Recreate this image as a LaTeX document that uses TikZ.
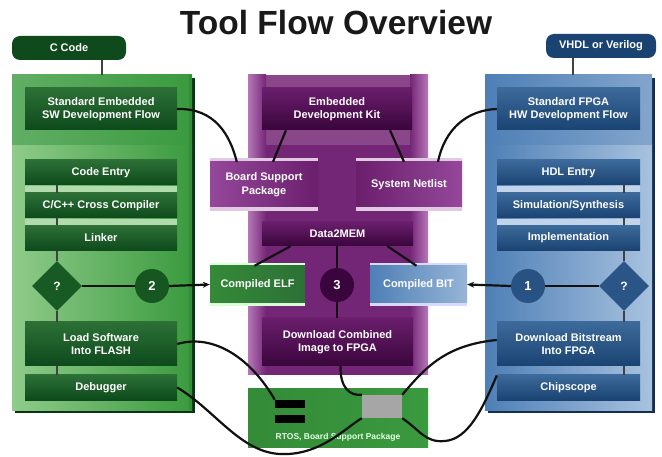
\documentclass[tikz,border=0pt]{standalone}
\usepackage{fontspec}
\setmainfont{Liberation Sans}
\usetikzlibrary{shapes.geometric,arrows.meta,calc}
\definecolor{gD}{HTML}{0E4A1C}
\definecolor{gD2}{HTML}{2C7036}
\definecolor{gP}{HTML}{3A9A3E}
\definecolor{gL}{HTML}{8FCB8A}
\definecolor{pD}{HTML}{3A053C}
\definecolor{pD2}{HTML}{6A1E6C}
\definecolor{pP}{HTML}{742676}
\definecolor{pL}{HTML}{B678B8}
\definecolor{pM}{HTML}{95489A}
\definecolor{bD}{HTML}{1A4372}
\definecolor{bD2}{HTML}{3C6A9A}
\definecolor{bP}{HTML}{4E7FB6}
\definecolor{bL}{HTML}{A8C2DF}
\definecolor{ln}{HTML}{111111}
\tikzset{
  txt/.style={text=white, font=\fontsize{11}{13.5}\selectfont\bfseries, align=center, inner sep=0pt},
  gbox/.style={txt, rectangle, top color=gD2, bottom color=gD, minimum width=152, minimum height=25},
  bbox/.style={txt, rectangle, top color=bD2, bottom color=bD, minimum width=143, minimum height=25},
  pbox/.style={txt, rectangle, top color=pD2, bottom color=pD, minimum width=151, minimum height=25},
  pill/.style={txt, rectangle, rounded corners=8, minimum height=24},
  circ/.style={txt, circle, minimum size=34, font=\fontsize{13}{13}\selectfont\bfseries},
  dia/.style={txt, diamond, aspect=1, minimum width=50, minimum height=50, font=\fontsize{12}{12}\selectfont\bfseries},
  conn/.style={draw=ln, line width=2.2},
  vconn/.style={draw=ln!80!white, line width=2},
  strip/.style={line width=3.5},
}
\begin{document}
\begin{tikzpicture}[x=1pt,y=-1pt]
\fill[white] (0,0) rectangle (662,457);
\useasboundingbox (0,0) rectangle (662,457);

% title
\node[font=\fontsize{33.5}{36}\selectfont\bfseries, text=black!90] (title) at (336,23) {Tool Flow Overview};

% ===== green panel =====
\fill[gD!70!black] (15,78) rectangle (195,413);
\shade[left color=gL, right color=gP] (12,145) rectangle (192,410);
\shade[left color=gP!80!white, right color=gP] (12,75) rectangle (192,145);
\fill[gP!90!black] (189,75) rectangle (192,410);

\node[pill, fill=gD, minimum width=114] (ccode) at (69,48) {C Code};
\node[gbox, minimum height=42] (sesw) at (101,109) {Standard Embedded\\SW Development Flow};
\fill[gL!70!white] (25,186) rectangle (177,192);
\fill[gL!70!white] (25,219) rectangle (177,225);
\node[gbox] (code) at (101,172.5) {Code Entry};
\node[gbox] (cross) at (101,205.5) {C/C++ Cross Compiler};
\node[gbox] (linker) at (101,238) {Linker};
\node[dia, fill=gD!80!gP] (gdia) at (57,286) {?};
\node[circ, fill=gD!85!gP] (c2) at (152,286) {2};
\node[gbox, minimum height=44] (loadsw) at (101,344) {Load Software\\Into FLASH};
\node[gbox] (debug) at (101,387.5) {Debugger};

% ===== purple panel =====
\fill[pP] (248,75) rectangle (428,375);
\fill[pP!85!white] (262,75) rectangle (412,145);
\shade[left color=pL, right color=pP] (248,75) rectangle (266,375);
\shade[left color=pP, right color=pL] (410,75) rectangle (428,375);
\node[pbox, minimum width=150, minimum height=42] (edk) at (337,109) {Embedded\\Development Kit};
\draw[strip, draw=pL!40!white] (210,160) -- (318,160) (210,209) -- (318,209);
\draw[strip, draw=pL!40!white] (356,160) -- (462,160) (356,209) -- (462,209);
\node[txt, rectangle, left color=pM, right color=pD2, minimum width=108, minimum height=45] (bsp) at (264,184.5) {Board Support\\Package};
\node[txt, rectangle, left color=pD2, right color=pM, minimum width=106, minimum height=45] (sysnet) at (409,184.5) {System Netlist};
\node[pbox, minimum height=24] (d2m) at (337.5,234) {Data2MEM};
\draw[strip, draw=white!85!green] (210,265) -- (305,265) (210,304) -- (305,304);
\draw[strip, draw=white!85!blue] (370,265) -- (467,265) (370,304) -- (467,304);
\node[txt, rectangle, left color=gP!90!black, right color=gD2, minimum width=95, minimum height=37] (elf) at (257.5,284.5) {Compiled ELF};
\node[txt, rectangle, left color=bP, right color=bL!80!bP, minimum width=97, minimum height=37] (bit) at (418.5,284.5) {Compiled BIT};
\node[circ, fill=pD] (c3) at (337,285) {3};
\node[pbox, minimum height=48] (dlc) at (337.5,342) {Download Combined\\Image to FPGA};

% ===== RTOS box =====
\shade[left color=gP!90!black, middle color=gP!70!white, right color=gP] (248,388) rectangle (428,447);
\node[inner sep=0, minimum width=30, minimum height=8, fill=black] (bar1) at (290,404) {};
\node[inner sep=0, minimum width=30, minimum height=8, fill=black] (bar2) at (290,419) {};
\node[inner sep=0, minimum width=40, minimum height=23, fill=gray!70!white] (gray) at (382,406.5) {};
\node[txt, text=white!90!green, font=\fontsize{8.5}{10}\selectfont\bfseries] (rtos) at (338,437) {RTOS, Board Support Package};

% ===== blue panel =====
\fill[bD!70!black] (488,78) rectangle (655,413);
\shade[left color=bP, right color=bL] (485,145) rectangle (652,410);
\shade[left color=bP, right color=bP!70!white] (485,75) rectangle (652,145);
\node[pill, fill=bD, minimum width=110] (vhdl) at (601,46) {VHDL or Verilog};
\node[bbox, minimum height=42] (sfpga) at (568.5,109) {Standard FPGA\\HW Development Flow};
\fill[bL!70!white] (497,186) rectangle (640,192);
\fill[bL!70!white] (497,219) rectangle (640,225);
\node[bbox] (hdl) at (568.5,172.5) {HDL Entry};
\node[bbox] (sim) at (568.5,205.5) {Simulation/Synthesis};
\node[bbox] (impl) at (568.5,238) {Implementation};
\node[dia, fill=bD!70!bP] (bdia) at (624,286) {?};
\node[circ, fill=bD!75!bP] (c1) at (528,286) {1};
\node[bbox, minimum height=44] (dlbit) at (568.5,344) {Download Bitstream\\Into FPGA};
\node[bbox] (chip) at (568.5,387.5) {Chipscope};

% ===== connectors =====
\draw[vconn] ([xshift=33]ccode.south) -- ++(0,15);
\draw[vconn] ([xshift=-28]vhdl.south) -- ++(0,17);
\draw[vconn] (code.south -| gdia.north) -- (cross.north -| gdia.north);
\draw[vconn] (cross.south -| gdia.north) -- (linker.north -| gdia.north);
\draw[vconn] (linker.south -| gdia.north) -- (gdia.north);
\draw[vconn] (gdia.south) -- (loadsw.north -| gdia.south);
\draw[vconn] (loadsw.south -| gdia.south) -- (debug.north -| gdia.south);
\draw[vconn] (hdl.south -| bdia.north) -- (sim.north -| bdia.north);
\draw[vconn] (sim.south -| bdia.north) -- (impl.north -| bdia.north);
\draw[vconn] (impl.south -| bdia.north) -- (bdia.north);
\draw[vconn] (bdia.south) -- (dlbit.north -| bdia.south);
\draw[vconn] (dlbit.south -| bdia.south) -- (chip.north -| bdia.south);

\draw[conn] (gdia.east) -- (c2.west);
\draw[conn, -{Stealth[length=7,width=6]}] (c2.east) -- (elf.west);
\draw[conn] (bdia.west) -- (c1.east);
\draw[conn, -{Stealth[length=7,width=6]}] (c1.west) -- (bit.east);

\draw[conn] (sesw.east) .. controls (215,108) and (230,135) .. ([xshift=27]bsp.north west);
\draw[conn] ([xshift=-51]edk.south) -- ([xshift=9]bsp.north);
\draw[conn] ([xshift=53]edk.south) -- ([xshift=-5]sysnet.north);
\draw[conn] (sfpga.west) .. controls (468,110) and (445,128) .. ([xshift=29]sysnet.north);

\draw[conn] ([xshift=-47]d2m.south) -- ([xshift=-3]elf.north);
\draw[conn] ([xshift=50]d2m.south) -- ([xshift=-2]bit.north);
\draw[conn] (d2m.south -| c3.north) -- (c3.north);
\draw[conn] (c3.south) -- (dlc.north -| c3.south);

\draw[conn] (loadsw.east) .. controls (215,333) and (252,360) .. (bar1.north west);
\draw[conn] (debug.east) .. controls (215,410) and (240,452) .. (280,454) .. controls (320,456) and (345,428) .. (gray.south west);
\draw[conn] ([xshift=3]dlc.south) .. controls (340,388) and (350,396) .. (gray.north west);
\draw[conn] ([yshift=4]dlbit.west) .. controls (445,345) and (425,368) .. (gray.north east);
\draw[conn] (gray.south east) .. controls (420,430) and (425,443) .. (445,441) .. controls (468,439) and (482,410) .. ([yshift=12]chip.west);
\end{tikzpicture}
\end{document}
